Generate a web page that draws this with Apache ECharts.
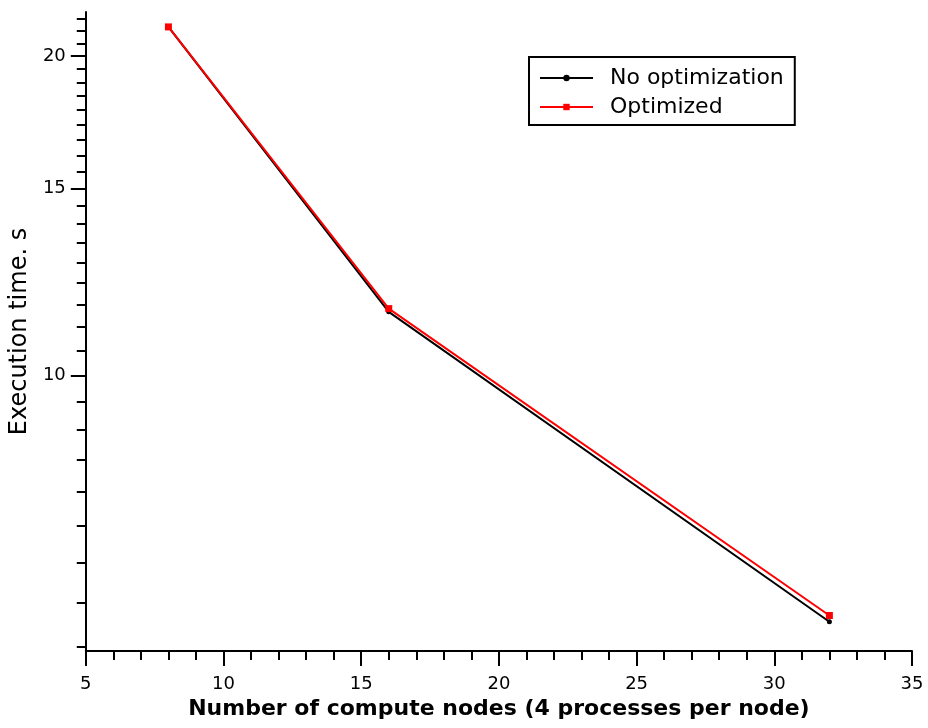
<!DOCTYPE html>
<html>
<head>
<meta charset="utf-8">
<script src="https://cdn.jsdelivr.net/npm/echarts@6/dist/echarts.min.js"></script>
<style>
html, body { margin: 0; padding: 0; background: #fff; }
#main { width: 928px; height: 728px; }
</style>
</head>
<body>
<div id="main"></div>
<script>
var nodes = [8, 16, 32];
var noOptimization = [21.3, 11.48, 5.86];
var optimized = [21.3, 11.56, 5.94];
var yLabelValues = [10, 15, 20];
var seriesNames = ['No optimization', 'Optimized'];

var FONT = 'DejaVu Sans';

// minor ticks on the y axis: 8 between each pair of labelled values
var yMinorValues = [];
[5, 10, 15, 20].forEach(function (base) {
    for (var k = 1; k <= 8; k++) {
        var v = base + k * 5 / 9;
        if (v >= 5.5 && v <= 22) yMinorValues.push(v);
    }
});

function pairs(xs, ys) {
    var res = [];
    for (var i = 0; i < xs.length; i++) res.push([xs[i], ys[i]]);
    return res;
}

var axisLineStyle = { color: '#000', width: 2 };

var myChart = echarts.init(document.getElementById('main'));
myChart.setOption({
    animation: false,
    backgroundColor: '#fff',
    textStyle: { fontFamily: FONT },
    grid: { left: 84, right: 16, top: 12, bottom: 77, containLabel: false },
    legend: {
        orient: 'vertical',
        left: 529,
        top: 57,
        data: seriesNames,
        borderColor: '#000',
        borderWidth: 2,
        borderRadius: 0,
        padding: [10, 11, 7, 10],
        itemWidth: 53,
        itemHeight: 8,
        itemGap: 7,
        textStyle: { fontFamily: FONT, fontSize: 22, color: '#000', padding: [0, 0, 0, 12] }
    },
    xAxis: {
        type: 'value',
        min: 5,
        max: 35,
        interval: 5,
        name: 'Number of compute nodes (4 processes per node)',
        nameLocation: 'middle',
        nameGap: 44,
        nameTextStyle: { fontFamily: FONT, fontSize: 22, fontWeight: 'bold', color: '#000' },
        axisLine: { lineStyle: axisLineStyle },
        axisTick: { length: 15, lineStyle: axisLineStyle },
        minorTick: { show: true, splitNumber: 5, length: 9, lineStyle: axisLineStyle },
        splitLine: { show: false },
        minorSplitLine: { show: false },
        axisLabel: { fontFamily: FONT, fontSize: 18, color: '#000', margin: 24 }
    },
    yAxis: [{
        type: 'log',
        min: 5.5,
        max: 22,
        name: 'Execution time. s',
        nameLocation: 'middle',
        nameGap: 48,
        nameTextStyle: { fontFamily: FONT, fontSize: 24, color: '#000' },
        axisLine: { lineStyle: axisLineStyle },
        axisTick: { length: 15, lineStyle: axisLineStyle, customValues: yLabelValues },
        splitLine: { show: false },
        axisLabel: { fontFamily: FONT, fontSize: 18, color: '#000', margin: 20, customValues: yLabelValues }
    }, {
        // second log axis only carries the short minor ticks
        type: 'log',
        min: 5.5,
        max: 22,
        position: 'left',
        axisLine: { show: false },
        axisTick: { length: 9, lineStyle: axisLineStyle, customValues: yMinorValues },
        splitLine: { show: false },
        axisLabel: { show: false }
    }],
    series: [{
        name: seriesNames[0],
        type: 'line',
        yAxisIndex: 0,
        data: pairs(nodes, noOptimization),
        symbol: 'circle',
        symbolSize: 5,
        color: '#000',
        lineStyle: { color: '#000', width: 2 },
        itemStyle: { color: '#000' },
        z: 2
    }, {
        name: seriesNames[1],
        type: 'line',
        yAxisIndex: 0,
        data: pairs(nodes, optimized),
        symbol: 'rect',
        symbolSize: 7,
        color: '#ff0000',
        lineStyle: { color: '#ff0000', width: 2 },
        itemStyle: { color: '#ff0000' },
        z: 3
    }]
});
</script>
</body>
</html>
